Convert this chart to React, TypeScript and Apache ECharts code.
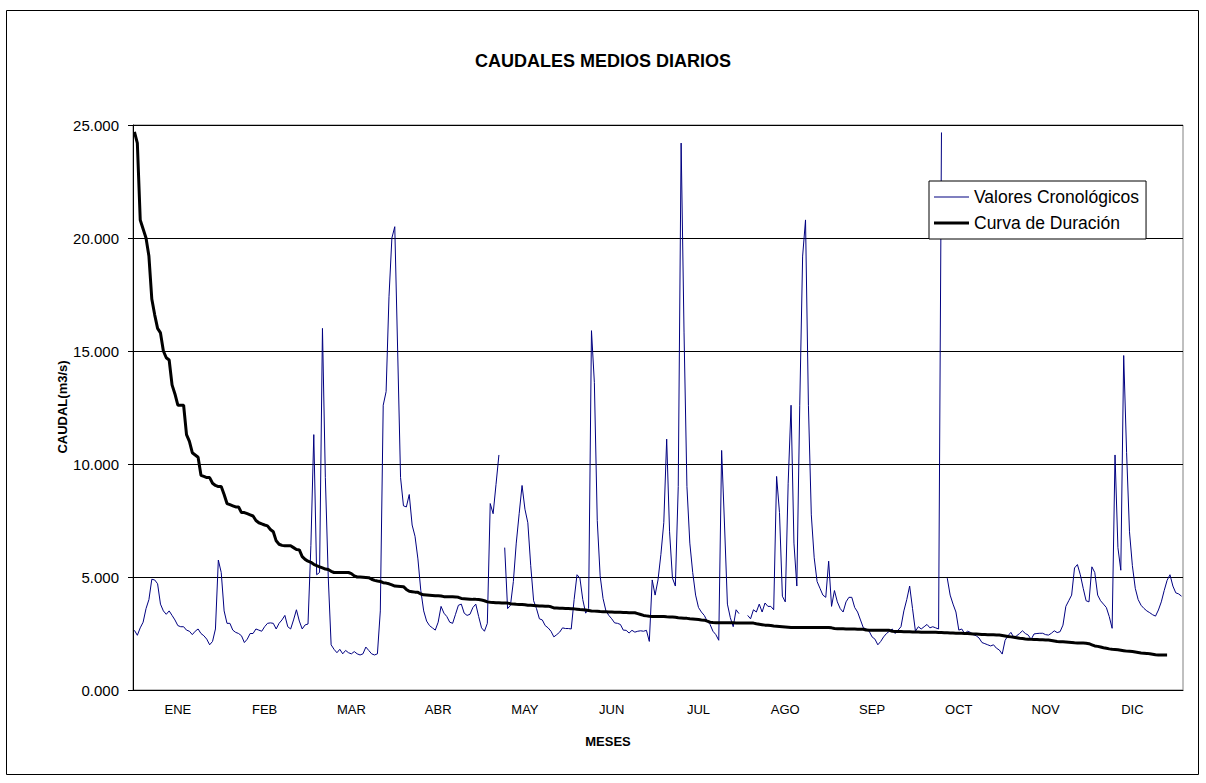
import React, { useEffect, useRef } from 'react';
import * as echarts from 'echarts';

const MONTHS = ['ENE', 'FEB', 'MAR', 'ABR', 'MAY', 'JUN', 'JUL', 'AGO', 'SEP', 'OCT', 'NOV', 'DIC'];
const DAYS_PER_TICK = 30;
const Y_MAX = 25000;
const Y_STEP = 5000;

// Valores cronológicos (daily flow, one value per day; null = missing)
const CHRONO: (number | null)[] = [
  2640, 2420, 2750, 3000, 3600, 4000, 4900, 4870, 4700, 3800,
  3500, 3350, 3500, 3300, 3100, 2850, 2800, 2800, 2650, 2600,
  2450, 2600, 2700, 2500, 2400, 2250, 2000, 2150, 2700, 5750,
  5200, 3500, 2950, 2950, 2650, 2550, 2500, 2400, 2100, 2250,
  2500, 2500, 2700, 2650, 2600, 2800, 2950, 2970, 2950, 2700,
  2950, 3100, 3300, 2800, 2700, 3100, 3550, 3050, 2700, 2880,
  2920, 6400, 11300, 5100, 5200, 16000, 9400, 5000, 2000, 1800,
  1650, 1800, 1600, 1750, 1650, 1600, 1700, 1600, 1550, 1600,
  1900, 1750, 1600, 1550, 1600, 3500, 12600, 13200, 17400, 20000,
  20500, 15000, 9400, 8150, 8100, 8650, 7300, 6800, 5800, 4400,
  3500, 3050, 2850, 2750, 2650, 3000, 3700, 3400, 3250, 3000,
  2950, 3350, 3750, 3800, 3400, 3300, 3350, 3650, 3800, 3250,
  2750, 2600, 2950, 8250, 7800, 9100, 10400, null, 6300, 3600,
  3750, 4800, 6500, 7800, 9050, 8000, 7400, 5500, 3950, 3600,
  3150, 3100, 2850, 2750, 2600, 2350, 2450, 2560, 2750, 2720,
  2720, 2700, 4000, 5100, 4950, 4000, 3400, 3600, 15900, 13600,
  7500, 5050, 4050, 3500, 3300, 3150, 2970, 2950, 2900, 2650,
  2640, 2520, 2640, 2560, 2600, 2620, 2600, 2640, 2150, 4870,
  4200, 4870, 6000, 7400, 11100, 7000, 4950, 4600, 9000, 24200,
  15800, 9000, 6500, 5200, 4200, 3650, 3450, 3300, 3050, 2900,
  2600, 2450, 2200, 10600, 7300, 3800, 3200, 2800, 3550, 3380,
  null, null, 3300, 3150, 3550, 3450, 3800, 3450, 3850, 3700,
  3700, 3550, 9450, 7850, 4150, 3900, 9150, 12600, 6500, 4600,
  12600, 19200, 20800, 12600, 7750, 5850, 4800, 4500, 4200, 4100,
  5700, 3700, 4400, 3900, 3600, 3450, 3900, 4100, 4100, 3650,
  3450, 3100, 2750, 2700, 2600, 2350, 2250, 2000, 2150, 2350,
  2500, 2600, 2700, 2500, 2650, 2800, 3500, 4000, 4600, 3600,
  2600, 2800, 2700, 2800, 2900, 2750, 2800, 2750, 2700, 24670,
  null, 4950, 4200, 3800, 3450, 2650, 2700, 2500, 2600, 2550,
  2450, 2400, 2300, 2100, 2050, 2000, 1950, 2000, 1850, 1770,
  1590, 2200, 2400, 2550, 2330, 2400, 2500, 2620, 2500, 2430,
  2240, 2480, 2500, 2510, 2510, 2450, 2430, 2510, 2620, 2540,
  2580, 2870, 3700, 3950, 4200, 5400, 5550, 5100, 4500, 3950,
  3900, 5450, 5200, 4200, 3950, 3800, 3650, 3250, 2730, 10400,
  6300, 5300, 14800, 10500, 7000, 5500, 4500, 4000, 3750, 3610,
  3500, 3420, 3330, 3270, 3540, 3900, 4400, 4850, 5100, 4600,
  4300, 4250, 4150,
];

// Curva de duración (descending)
const DURATION: number[] = [
  24700, 24200, 20800, 20400, 20000, 19200, 17300, 16600, 16000, 15800,
  15000, 14700, 14600, 13500, 13100, 12600, 12600, 12600, 11300, 11000,
  10500, 10400, 10300, 9500, 9450, 9400, 9400, 9150, 9050, 9000,
  9000, 8650, 8250, 8200, 8150, 8100, 8100, 7850, 7850, 7800,
  7750, 7700, 7500, 7400, 7350, 7300, 7260, 7100, 7000, 6600,
  6450, 6400, 6380, 6380, 6380, 6300, 6220, 6200, 5900, 5780,
  5700, 5650, 5560, 5500, 5450, 5400, 5350, 5330, 5250, 5200,
  5200, 5200, 5200, 5200, 5200, 5150, 5050, 5000, 5000, 4990,
  4980, 4970, 4900, 4850, 4820, 4800, 4750, 4730, 4700, 4650,
  4600, 4590, 4580, 4570, 4450, 4370, 4350, 4330, 4320, 4250,
  4210, 4200, 4190, 4180, 4170, 4170, 4160, 4130, 4125, 4125,
  4125, 4120, 4100, 4050, 4040, 4030, 4020, 4010, 4010, 4000,
  3980, 3950, 3900, 3880, 3870, 3860, 3860, 3850, 3850, 3845,
  3820, 3800, 3790, 3785, 3780, 3770, 3750, 3745, 3740, 3730,
  3720, 3715, 3710, 3710, 3680, 3630, 3625, 3620, 3615, 3610,
  3605, 3600, 3590, 3575, 3560, 3550, 3540, 3520, 3500, 3490,
  3480, 3470, 3465, 3460, 3455, 3450, 3445, 3440, 3435, 3430,
  3425, 3420, 3415, 3415, 3380, 3340, 3300, 3280, 3260, 3250,
  3250, 3250, 3250, 3250, 3240, 3235, 3230, 3220, 3200, 3190,
  3180, 3170, 3150, 3140, 3130, 3120, 3100, 3090, 3050, 3000,
  2985, 2980, 2980, 2980, 2975, 2975, 2975, 2975, 2970, 2970,
  2970, 2970, 2970, 2970, 2960, 2930, 2910, 2890, 2870, 2860,
  2850, 2830, 2820, 2810, 2800, 2790, 2780, 2770, 2770, 2770,
  2770, 2770, 2770, 2770, 2770, 2770, 2770, 2770, 2770, 2770,
  2770, 2750, 2720, 2715, 2710, 2705, 2700, 2700, 2700, 2695,
  2690, 2690, 2690, 2650, 2640, 2640, 2640, 2640, 2640, 2640,
  2640, 2640, 2600, 2590, 2590, 2585, 2580, 2580, 2575, 2570,
  2570, 2565, 2560, 2560, 2560, 2560, 2555, 2550, 2545, 2540,
  2535, 2530, 2525, 2520, 2515, 2510, 2510, 2500, 2495, 2490,
  2480, 2475, 2470, 2460, 2455, 2450, 2445, 2440, 2435, 2430,
  2410, 2390, 2370, 2350, 2330, 2310, 2290, 2275, 2260, 2250,
  2240, 2235, 2230, 2225, 2220, 2215, 2210, 2190, 2170, 2150,
  2140, 2130, 2120, 2110, 2100, 2090, 2085, 2080, 2075, 2070,
  2050, 2000, 1950, 1930, 1900, 1870, 1850, 1820, 1800, 1790,
  1780, 1760, 1740, 1720, 1710, 1700, 1680, 1660, 1640, 1630,
  1620, 1600, 1580, 1560, 1550, 1550, 1550, 1550,
];

const FONT = '"Liberation Sans", Arial, Helvetica, sans-serif';

export default function App() {
  const ref = useRef<HTMLDivElement>(null);

  useEffect(() => {
    if (!ref.current) return;
    const chart = echarts.init(ref.current, null, { renderer: 'svg' });
    const days = CHRONO.map((_, i) => String(i + 1));

    chart.setOption({
      animation: false,
      backgroundColor: '#ffffff',
      textStyle: { fontFamily: FONT, color: '#000' },
      title: {
        text: 'CAUDALES MEDIOS DIARIOS',
        left: 'center',
        top: 47,
        textStyle: { fontFamily: FONT, fontSize: 18, fontWeight: 'bold', color: '#000' },
      },
      legend: {
        orient: 'vertical',
        left: 929,
        top: 181,
        padding: [7, 7, 7, 5],
        itemGap: 8,
        itemWidth: 35,
        itemHeight: 14,
        borderColor: '#000',
        borderWidth: 1,
        borderRadius: 0,
        backgroundColor: '#fff',
        selectedMode: false,
        itemStyle: { borderWidth: 0 },
        textStyle: { fontFamily: FONT, fontSize: 17.5, color: '#000' },
        data: [
          { name: 'Valores Cronológicos', icon: 'path://M0,0H35V1H0Z', itemStyle: { color: '#000080', borderWidth: 0 } },
          { name: 'Curva de Duración', icon: 'path://M0,0H35V3H0Z', itemStyle: { color: '#000', borderWidth: 0 } },
        ],
      },
      grid: {
        left: 133,
        right: 23,
        top: 125,
        bottom: 93,
        show: true,
        borderColor: '#808080',
        borderWidth: 1,
        backgroundColor: '#fff',
      },
      xAxis: {
        type: 'category',
        data: days,
        boundaryGap: true,
        axisLine: { lineStyle: { color: '#000', width: 1 } },
        axisTick: {
          interval: (i: number) => i % DAYS_PER_TICK === 0,
          length: 4,
          lineStyle: { color: '#000', width: 1 },
        },
        axisLabel: {
          interval: (i: number) => i % DAYS_PER_TICK === DAYS_PER_TICK / 2,
          formatter: (_v: string, i: number) => MONTHS[Math.floor(i / DAYS_PER_TICK)] ?? '',
          fontFamily: FONT,
          fontSize: 13,
          color: '#000',
          margin: 13,
        },
        splitLine: { show: false },
      },
      yAxis: {
        type: 'value',
        min: 0,
        max: Y_MAX,
        interval: Y_STEP,
        axisLine: { show: true, lineStyle: { color: '#000', width: 1 } },
        axisTick: { show: true, length: 5, lineStyle: { color: '#000', width: 1 } },
        axisLabel: {
          formatter: (v: number) => (v / 1000).toFixed(3),
          fontFamily: FONT,
          fontSize: 15,
          color: '#000',
          margin: 14,
        },
        splitLine: { show: true, lineStyle: { color: '#000', width: 1 } },
      },
      graphic: [
        {
          type: 'rect',
          shape: { x: 6.5, y: 10.5, width: 1192, height: 764 },
          style: { fill: 'none', stroke: '#000', lineWidth: 1 },
          silent: true,
          z: 100,
        },
        {
          type: 'text',
          x: 62,
          y: 407,
          rotation: Math.PI / 2,
          style: {
            text: 'CAUDAL(m3/s)',
            font: `bold 13px ${FONT}`,
            fill: '#000',
            textAlign: 'center',
            textVerticalAlign: 'middle',
          },
        },
        {
          type: 'text',
          x: 608,
          y: 741,
          style: {
            text: 'MESES',
            font: `bold 13px ${FONT}`,
            fill: '#000',
            textAlign: 'center',
            textVerticalAlign: 'middle',
          },
        },
      ],
      series: [
        {
          name: 'Valores Cronológicos',
          type: 'line',
          data: CHRONO,
          symbol: 'none',
          connectNulls: false,
          lineStyle: { color: '#000080', width: 1 },
          itemStyle: { color: '#000080' },
          z: 2,
        },
        {
          name: 'Curva de Duración',
          type: 'line',
          data: DURATION,
          symbol: 'none',
          lineStyle: { color: '#000', width: 3 },
          itemStyle: { color: '#000' },
          z: 3,
        },
      ],
    });

    return () => chart.dispose();
  }, []);

  return (
    <div
      ref={ref}
      style={{ position: 'absolute', left: 0, top: 0, width: 1206, height: 783, background: '#fff' }}
    />
  );
}
